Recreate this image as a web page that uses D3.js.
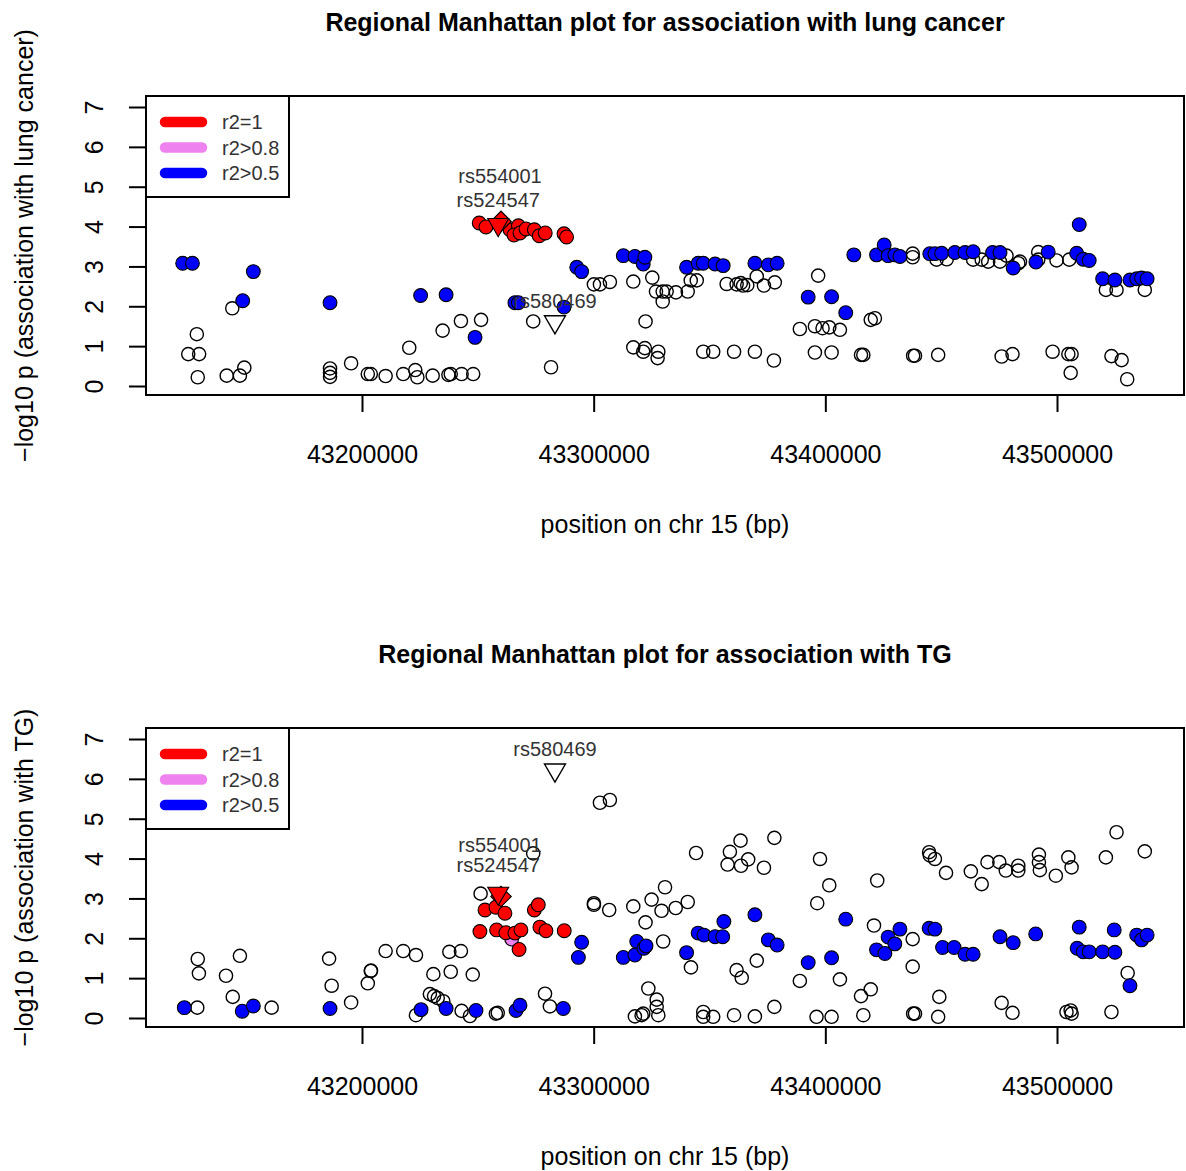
<!DOCTYPE html>
<meta charset="utf-8">
<style>
body { margin: 0; background: #fff; }
text { font-family: "Liberation Sans", Arial, sans-serif; fill: #000; }
.tick line { stroke: #000; stroke-width: 2px; }
.tick text { font-size: 25px; }
.snp-label { font-size: 20px; fill: #333; }
</style>
<body>
<script src="https://d3js.org/d3.v7.min.js"></script>
<script>

// axis ticks
var xTicks = [43200000, 43300000, 43400000, 43500000];
var yTicks = [0, 1, 2, 3, 4, 5, 6, 7];

var legendLabels = ["r2=1", "r2>0.8", "r2>0.5"];
var legendColors = ["red", "violet", "blue"];

// highlighted SNPs
var snpNames = ["rs554001", "rs524547", "rs580469"];
var snpPos = [43260000, 43258800, 43283300];

// ---- lung cancer panel: [position (bp), -log10 p]
var lungOther = [
  [43128700, 1.30], [43125000, 0.80], [43129700, 0.80], [43129100, 0.22], [43144000, 1.95],
  [43141600, 0.26], [43147300, 0.26], [43149200, 0.46], [43186200, 0.44], [43186200, 0.33],
  [43186200, 0.23], [43195300, 0.57], [43202500, 0.30], [43203800, 0.30], [43210200, 0.25],
  [43217800, 0.30], [43223000, 0.40], [43223900, 0.22], [43220400, 0.96], [43230500, 0.26],
  [43237300, 0.28], [43238300, 0.30], [43243000, 0.30], [43248000, 0.30], [43234800, 1.39],
  [43242700, 1.63], [43251400, 1.66], [43273900, 1.62], [43281600, 0.47], [43300100, 2.55],
  [43302700, 2.55], [43307000, 2.61], [43317100, 2.62], [43325300, 2.72], [43322400, 1.62],
  [43326900, 2.37], [43329800, 2.37], [43331500, 2.37], [43329800, 2.12], [43335500, 2.35],
  [43340600, 2.37], [43341900, 2.65], [43344500, 2.65], [43357400, 2.56], [43361700, 2.55],
  [43363500, 2.58], [43364500, 2.52], [43366300, 2.53], [43370400, 2.75], [43373500, 2.52],
  [43378200, 2.60], [43317100, 0.97], [43321400, 0.86], [43322100, 0.95], [43327900, 0.86],
  [43327600, 0.70], [43347300, 0.86], [43351600, 0.86], [43360600, 0.86], [43369600, 0.86],
  [43377800, 0.64], [43389000, 1.43], [43395500, 1.50], [43395500, 0.84], [43396900, 2.77],
  [43398800, 1.45], [43401700, 1.47], [43406300, 1.41], [43419600, 1.66], [43421400, 1.70],
  [43402700, 0.84], [43415400, 0.78], [43416400, 0.78], [43437900, 0.76], [43438700, 0.76],
  [43448700, 0.78], [43476100, 0.74], [43480800, 0.80], [43498100, 0.86], [43504900, 0.80],
  [43506300, 0.80], [43505900, 0.33], [43523500, 0.75], [43527900, 0.65], [43530300, 0.17],
  [43437700, 3.32], [43437700, 3.23], [43448000, 3.17], [43452400, 3.18], [43463800, 3.17],
  [43467500, 3.17], [43470300, 3.12], [43475400, 3.12], [43478200, 3.27], [43484000, 3.12],
  [43483300, 3.08], [43491900, 3.36], [43491900, 3.17], [43499800, 3.15], [43505300, 3.17],
  [43521100, 2.41], [43525700, 2.41], [43537900, 2.41]
];
var lungHalf = [
  [43122600, 3.08], [43126800, 3.08], [43153100, 2.87], [43148500, 2.14], [43186200, 2.09],
  [43225300, 2.27], [43236300, 2.29], [43248800, 1.22], [43266000, 2.09], [43267500, 2.09],
  [43287200, 1.98], [43292700, 2.98], [43294800, 2.87], [43312800, 3.27], [43317800, 3.25],
  [43321400, 3.06], [43322100, 3.23], [43340100, 2.98], [43345100, 3.08], [43347300, 3.08],
  [43352400, 3.06], [43355900, 3.02], [43369600, 3.08], [43375400, 3.04], [43379200, 3.08],
  [43392600, 2.23], [43402700, 2.24], [43408800, 1.84], [43412300, 3.29], [43422100, 3.29],
  [43425400, 3.54], [43427100, 3.27], [43430000, 3.29], [43432200, 3.25], [43445100, 3.32],
  [43447300, 3.32], [43450200, 3.33], [43455900, 3.35], [43460300, 3.35], [43463800, 3.37],
  [43472200, 3.35], [43475400, 3.35], [43481100, 2.96], [43490900, 3.11], [43496200, 3.36],
  [43509600, 4.05], [43508500, 3.33], [43511300, 3.18], [43513900, 3.15], [43519700, 2.69],
  [43525000, 2.66], [43531500, 2.66], [43534400, 2.69], [43536500, 2.71], [43538900, 2.69]
];
var lungHigh = [];
var lungOne = [
  [43250600, 4.09], [43253500, 3.99], [43263900, 3.92], [43267500, 4.02], [43265600, 3.79],
  [43268200, 3.84], [43270800, 3.94], [43274400, 3.92], [43276500, 3.77], [43279100, 3.84],
  [43287200, 3.82], [43288300, 3.74]
];
var lungSnpVals = [4.13, 4.05, 1.61];

// ---- TG panel
var tgOther = [
  [43128900, 0.26], [43129100, 1.48], [43129600, 1.12], [43141300, 1.06], [43147300, 1.56],
  [43144200, 0.53], [43161000, 0.26], [43185800, 1.49], [43186900, 0.81], [43195300, 0.39],
  [43202500, 0.87], [43203800, 1.18], [43203900, 1.19], [43210200, 1.68], [43217800, 1.68],
  [43223300, 1.58], [43230800, 1.10], [43237700, 1.66], [43242700, 1.68], [43238300, 1.16],
  [43247800, 1.09], [43229300, 0.60], [43231100, 0.55], [43232700, 0.50], [43235100, 0.42],
  [43223300, 0.07], [43243000, 0.18], [43246600, 0.05], [43257800, 0.11], [43251200, 3.12],
  [43258600, 0.13], [43273900, 4.13], [43302700, 5.40], [43307000, 5.47], [43300100, 2.88],
  [43300100, 2.84], [43306700, 2.71], [43317100, 2.80], [43325000, 2.97], [43330800, 3.28],
  [43329300, 2.69], [43335400, 2.76], [43340600, 2.91], [43322400, 2.40], [43330000, 1.92],
  [43344200, 4.14], [43358800, 4.17], [43363400, 4.45], [43357800, 3.85], [43363600, 3.82],
  [43366700, 3.98], [43373500, 3.77], [43378000, 4.52], [43342000, 1.27], [43361700, 1.20],
  [43363900, 1.01], [43370400, 1.44], [43389000, 0.93], [43279000, 0.61], [43281100, 0.29],
  [43323600, 0.74], [43327200, 0.46], [43327200, 0.28], [43317800, 0.04], [43320700, 0.07],
  [43321400, 0.11], [43327900, 0.07], [43347300, 0.15], [43347300, 0.03], [43351600, 0.03],
  [43360600, 0.07], [43369600, 0.04], [43378000, 0.28], [43397700, 3.99], [43401700, 3.33],
  [43396500, 2.88], [43406300, 0.97], [43415400, 0.55], [43419600, 0.72], [43396200, 0.03],
  [43402700, 0.03], [43416400, 0.07], [43422400, 3.45], [43421000, 2.32], [43437700, 1.98],
  [43437700, 1.29], [43437900, 0.11], [43438700, 0.11], [43449200, 0.53], [43448700, 0.03],
  [43444800, 4.16], [43445100, 4.08], [43447300, 3.99], [43452100, 3.64], [43462800, 3.68],
  [43467500, 3.36], [43470000, 3.91], [43475100, 3.91], [43477900, 3.70], [43483300, 3.82],
  [43483300, 3.70], [43492200, 4.10], [43492200, 3.91], [43492600, 3.71], [43499500, 3.57],
  [43504900, 4.03], [43506300, 3.78], [43521100, 4.03], [43525700, 4.66], [43537900, 4.18],
  [43530500, 1.13], [43476100, 0.38], [43480800, 0.13], [43504100, 0.15], [43505900, 0.19],
  [43506300, 0.11], [43523500, 0.15]
];
var tgHalf = [
  [43123300, 0.26], [43148300, 0.17], [43153100, 0.30], [43186200, 0.24], [43225500, 0.21],
  [43236300, 0.24], [43249200, 0.19], [43266500, 0.19], [43268200, 0.32], [43286900, 0.24],
  [43294800, 1.90], [43293400, 1.52], [43312800, 1.52], [43318600, 1.92], [43317800, 1.58],
  [43321700, 1.75], [43322600, 1.81], [43340100, 1.64], [43345100, 2.13], [43347600, 2.08],
  [43352400, 2.04], [43355700, 2.04], [43356200, 2.42], [43369600, 2.59], [43375400, 1.96],
  [43379200, 1.83], [43392600, 1.39], [43402700, 1.51], [43408800, 2.48], [43422100, 1.71],
  [43425700, 1.62], [43427100, 2.03], [43430000, 1.86], [43432200, 2.23], [43444800, 2.25],
  [43447300, 2.23], [43450600, 1.77], [43455600, 1.77], [43460300, 1.60], [43463800, 1.60],
  [43475400, 2.04], [43481100, 1.89], [43490800, 2.11], [43509600, 2.28], [43508700, 1.75],
  [43511300, 1.66], [43513900, 1.66], [43519700, 1.66], [43525000, 1.65], [43524700, 2.21],
  [43531500, 0.81], [43534400, 2.08], [43536500, 1.96], [43538900, 2.08]
];
var tgHigh = [[43264600, 1.98]];
var tgOne = [
  [43250900, 2.17], [43253100, 2.71], [43258100, 2.21], [43257800, 2.78], [43261700, 2.63],
  [43262100, 2.14], [43266000, 2.13], [43268600, 2.21], [43267800, 1.72], [43274400, 2.71],
  [43276100, 2.84], [43276800, 2.28], [43279400, 2.19], [43287300, 2.19]
];
var tgSnpVals = [3.05, 3.13, 6.22];

var svg = d3.select("body").append("svg")
    .attr("width", 1186)
    .attr("height", 1171);

var box = {left: 146, right: 1184, top: 96, bottom: 395};

var x = d3.scaleLinear()
    .domain([43200000, 43500000])
    .range([362, 1057]);

var y = d3.scaleLinear()
    .domain([0, 7])
    .range([386, 107]);

function drawPanel(p, shift) {
  var g = svg.append("g").attr("transform", "translate(0," + shift + ")");

  g.append("text")
      .attr("x", 665).attr("y", 31)
      .attr("text-anchor", "middle")
      .style("font-size", "25px").style("font-weight", "bold")
      .text(p.title);

  // x axis
  var xa = g.append("g")
      .attr("transform", "translate(0," + box.bottom + ")")
      .call(d3.axisBottom(x).tickValues(xTicks).tickFormat(d3.format("d")).tickSize(17).tickPadding(33));
  xa.select(".domain").remove();

  // y axis, labels parallel to the axis
  var ya = g.append("g")
      .attr("transform", "translate(" + box.left + ",0)")
      .call(d3.axisLeft(y).tickValues(yTicks).tickFormat(d3.format("d")).tickSize(17));
  ya.select(".domain").remove();
  ya.selectAll(".tick text")
      .attr("x", null).attr("dy", null)
      .attr("text-anchor", "middle")
      .attr("transform", "translate(-43,0) rotate(-90)");

  g.append("text")
      .attr("x", 665).attr("y", 533)
      .attr("text-anchor", "middle")
      .style("font-size", "25px")
      .text("position on chr 15 (bp)");

  g.append("text")
      .attr("transform", "translate(33," + (box.top + box.bottom) / 2 + ") rotate(-90)")
      .attr("text-anchor", "middle")
      .style("font-size", "25px")
      .text(p.ylab);

  function dots(data, fill) {
    g.append("g").selectAll("circle")
      .data(data)
      .join("circle")
        .attr("cx", function(d) { return x(d[0]); })
        .attr("cy", function(d) { return y(d[1]); })
        .attr("r", fill == "none" ? 6.6 : 6.9)
        .attr("fill", fill)
        .attr("stroke", "#000")
        .attr("stroke-width", fill == "none" ? 1.4 : 1.1);
  }
  dots(p.other, "none");
  dots(p.half, "blue");
  dots(p.high, "violet");
  dots(p.one, "red");

  // highlighted SNPs
  var diamond = d3.symbol(d3.symbolSquare, 210);
  var tri = d3.symbol(d3.symbolTriangle, 190);
  g.append("path")
      .attr("d", diamond)
      .attr("transform", "translate(" + x(snpPos[0]) + "," + y(p.snp[0]) + ") rotate(45)")
      .attr("fill", "red").attr("stroke", "#000").attr("stroke-width", 1.1);
  g.append("path")
      .attr("d", tri)
      .attr("transform", "translate(" + x(snpPos[1]) + "," + y(p.snp[1]) + ") rotate(180)")
      .attr("fill", "red").attr("stroke", "#000").attr("stroke-width", 1.1);
  g.append("path")
      .attr("d", tri)
      .attr("transform", "translate(" + x(snpPos[2]) + "," + y(p.snp[2]) + ") rotate(180)")
      .attr("fill", "none").attr("stroke", "#000").attr("stroke-width", 1.4);

  var top2 = y(Math.max(p.snp[0], p.snp[1]));
  g.append("text").attr("class", "snp-label")
      .attr("x", x(snpPos[0]) - 1).attr("y", top2 - p.labelGap - p.labelStep)
      .attr("text-anchor", "middle").text(snpNames[0]);
  g.append("text").attr("class", "snp-label")
      .attr("x", x(snpPos[1])).attr("y", top2 - p.labelGap)
      .attr("text-anchor", "middle").text(snpNames[1]);
  g.append("text").attr("class", "snp-label")
      .attr("x", x(snpPos[2])).attr("y", y(p.snp[2]) - 14)
      .attr("text-anchor", "middle").text(snpNames[2]);

  // plot frame
  g.append("rect")
      .attr("x", box.left).attr("y", box.top)
      .attr("width", box.right - box.left).attr("height", box.bottom - box.top)
      .attr("fill", "none").attr("stroke", "#000").attr("stroke-width", 2);

  // legend
  var lg = g.append("g");
  lg.append("rect")
      .attr("x", box.left).attr("y", box.top)
      .attr("width", 143).attr("height", 101)
      .attr("fill", "#fff").attr("stroke", "#000").attr("stroke-width", 2);
  legendLabels.forEach(function(lab, i) {
    var ly = box.top + 26 + i * 25.5;
    lg.append("line")
        .attr("x1", 165).attr("x2", 202).attr("y1", ly).attr("y2", ly)
        .attr("stroke", legendColors[i]).attr("stroke-width", 10.5)
        .attr("stroke-linecap", "round");
    lg.append("text")
        .attr("x", 222).attr("y", ly + 7)
        .style("font-size", "20px").style("fill", "#333")
        .text(lab);
  });
}

drawPanel({
  title: "Regional Manhattan plot for association with lung cancer",
  ylab: "\u2212log10 p (association with lung cancer)",
  other: lungOther, half: lungHalf, high: lungHigh, one: lungOne,
  snp: lungSnpVals, labelGap: 14, labelStep: 24
}, 0);

drawPanel({
  title: "Regional Manhattan plot for association with TG",
  ylab: "\u2212log10 p (association with TG)",
  other: tgOther, half: tgHalf, high: tgHigh, one: tgOne,
  snp: tgSnpVals, labelGap: 21, labelStep: 20
}, 632);

</script>
